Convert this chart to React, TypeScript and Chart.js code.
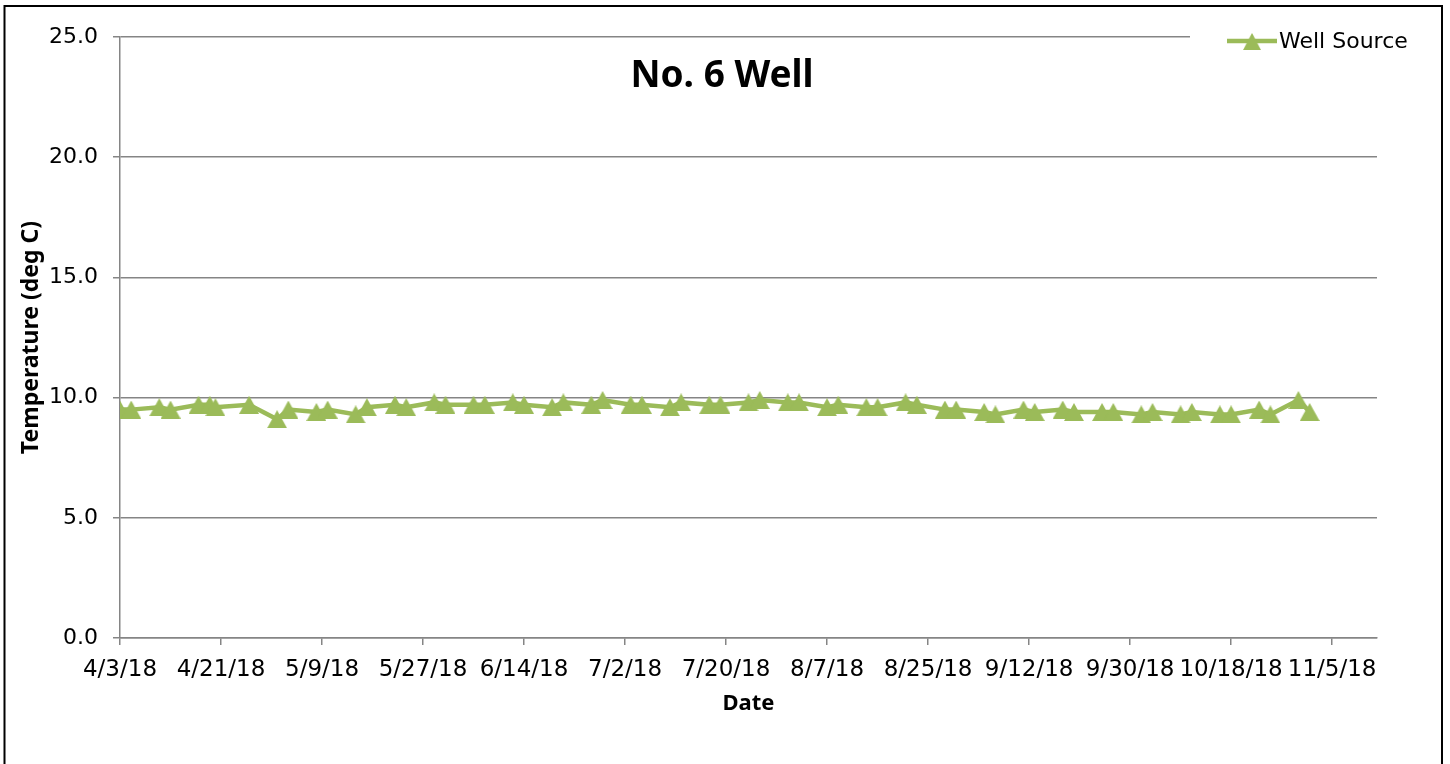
import React, { useEffect, useRef } from "react";
import { Chart, registerables } from "chart.js";

Chart.register(...registerables);

// ---- data ----
const sampleDates: string[] = [
  "4/3/18", "4/5/18", "4/10/18", "4/12/18", "4/17/18", "4/19/18", "4/20/18", "4/26/18",
  "5/1/18", "5/3/18", "5/8/18", "5/10/18", "5/15/18", "5/17/18", "5/22/18", "5/24/18",
  "5/29/18", "5/31/18", "6/5/18", "6/7/18", "6/12/18", "6/14/18", "6/19/18", "6/21/18",
  "6/26/18", "6/28/18", "7/3/18", "7/5/18", "7/10/18", "7/12/18", "7/17/18", "7/19/18",
  "7/24/18", "7/26/18", "7/31/18", "8/2/18", "8/7/18", "8/9/18", "8/14/18", "8/16/18",
  "8/21/18", "8/23/18", "8/28/18", "8/30/18", "9/4/18", "9/6/18", "9/11/18", "9/13/18",
  "9/18/18", "9/20/18", "9/25/18", "9/27/18", "10/2/18", "10/4/18", "10/9/18", "10/11/18",
  "10/16/18", "10/18/18", "10/23/18", "10/25/18", "10/30/18", "11/1/18",
];

const wellSource: number[] = [
  9.5, 9.5, 9.6, 9.5, 9.7, 9.7, 9.6, 9.7, 9.1, 9.5,
  9.4, 9.5, 9.3, 9.6, 9.7, 9.6, 9.8, 9.7, 9.7, 9.7,
  9.8, 9.7, 9.6, 9.8, 9.7, 9.9, 9.7, 9.7, 9.6, 9.8,
  9.7, 9.7, 9.8, 9.9, 9.8, 9.8, 9.6, 9.7, 9.6, 9.6,
  9.8, 9.7, 9.5, 9.5, 9.4, 9.3, 9.5, 9.4, 9.5, 9.4,
  9.4, 9.4, 9.3, 9.4, 9.3, 9.4, 9.3, 9.3, 9.5, 9.3,
  9.9, 9.4,
];

const xTickLabels: string[] = [
  "4/3/18", "4/21/18", "5/9/18", "5/27/18", "6/14/18", "7/2/18", "7/20/18",
  "8/7/18", "8/25/18", "9/12/18", "9/30/18", "10/18/18", "11/5/18",
];
const xAxisMin = "4/3/18";
const xAxisMax = "11/13/18";

const yTickValues: number[] = [0, 5, 10, 15, 20, 25];

const chartTitle = "No. 6 Well";
const seriesName = "Well Source";
const xTitle = "Date";
const yTitle = "Temperature (deg C)";

const GREEN = "#9BBB59";
const GRID = "#858585";

function dayNum(s: string): number {
  const [m, d, y] = s.split("/").map(Number);
  return Math.round(Date.UTC(2000 + y, m - 1, d) / 86400000);
}

function makeTriangle(w: number, h: number): HTMLCanvasElement {
  const c = document.createElement("canvas");
  c.width = w;
  c.height = h;
  const g = c.getContext("2d")!;
  g.fillStyle = GREEN;
  g.beginPath();
  g.moveTo(w / 2, 0);
  g.lineTo(w, h);
  g.lineTo(0, h);
  g.closePath();
  g.fill();
  return c;
}

export default function App() {
  const ref = useRef<HTMLCanvasElement | null>(null);

  useEffect(() => {
    document.body.style.margin = "0";
    const canvas = ref.current;
    if (!canvas) return;

    const tri = makeTriangle(20, 18);
    const tickDays = xTickLabels.map(dayNum);
    const labelMap = new Map<number, string>();
    xTickLabels.forEach((l, i) => labelMap.set(tickDays[i], l));

    const points = sampleDates.map((d, i) => ({ x: dayNum(d), y: wellSource[i] }));

    const decor = {
      id: "decor",
      afterDraw(chart: any) {
        const ctx = chart.ctx as CanvasRenderingContext2D;
        ctx.save();
        // outer border
        ctx.strokeStyle = "#000";
        ctx.lineWidth = 2;
        ctx.strokeRect(4.5, 6, 1437.5, 800);
        // title
        ctx.fillStyle = "#000";
        ctx.font = "bold 37px 'Noto Sans'";
        ctx.textAlign = "center";
        ctx.textBaseline = "alphabetic";
        ctx.fillText(chartTitle, 722, 87);
        // legend
        ctx.fillStyle = "#fff";
        ctx.fillRect(1190, 24, 235, 30);
        ctx.strokeStyle = GREEN;
        ctx.lineWidth = 4.5;
        ctx.beginPath();
        ctx.moveTo(1227, 41);
        ctx.lineTo(1277, 41);
        ctx.stroke();
        ctx.drawImage(tri, 1252 - 9, 41.5 - 8.5, 18, 17);
        ctx.fillStyle = "#000";
        ctx.font = "22px 'DejaVu Sans'";
        ctx.textAlign = "left";
        ctx.fillText(seriesName, 1279, 48);
        ctx.restore();
      },
    };

    const chart = new Chart(canvas, {
      type: "line",
      data: {
        datasets: [
          {
            label: seriesName,
            data: points,
            borderColor: GREEN,
            backgroundColor: GREEN,
            borderWidth: 4.5,
            tension: 0,
            pointStyle: tri as any,
            pointRadius: 10,
            pointHoverRadius: 10,
          },
        ],
      },
      options: {
        responsive: false,
        animation: false,
        layout: { padding: { left: 0, top: 37, right: 73, bottom: 0 } },
        plugins: {
          legend: { display: false },
          title: { display: false },
          tooltip: { enabled: false },
        },
        scales: {
          x: {
            type: "linear",
            min: dayNum(xAxisMin),
            max: dayNum(xAxisMax),
            afterBuildTicks: (s: any) => {
              s.ticks = tickDays.map((v) => ({ value: v }));
            },
            afterFit: (s: any) => {
              s.height = 126;
            },
            ticks: {
              autoSkip: false,
              maxRotation: 0,
              minRotation: 0,
              padding: 11,
              color: "#000",
              font: { family: "DejaVu Sans", size: 23 },
              callback: (v: any) => labelMap.get(Number(v)) ?? "",
            },
            grid: {
              drawOnChartArea: false,
              drawTicks: true,
              tickLength: 7,
              color: GRID,
              lineWidth: 1.5,
            },
            border: { display: true, color: GRID, width: 1.5 },
            title: {
              display: true,
              text: xTitle,
              color: "#000",
              font: { family: "Noto Sans", size: 22, weight: "bold" },
              padding: { top: 0, bottom: 47 },
            },
          },
          y: {
            type: "linear",
            min: 0,
            max: 25,
            afterBuildTicks: (s: any) => {
              s.ticks = yTickValues.map((v) => ({ value: v }));
            },
            afterFit: (s: any) => {
              s.width = 120;
            },
            ticks: {
              padding: 15,
              color: "#000",
              font: { family: "DejaVu Sans", size: 22 },
              callback: (v: any) => Number(v).toFixed(1),
            },
            grid: {
              drawOnChartArea: true,
              drawTicks: true,
              tickLength: 7,
              color: GRID,
              lineWidth: 1.5,
            },
            border: { display: true, color: GRID, width: 1.5 },
            title: {
              display: true,
              text: yTitle,
              color: "#000",
              font: { family: "Noto Sans", size: 23, weight: "bold" },
              padding: { top: 18, bottom: 0 },
            },
          },
        },
      },
      plugins: [decor],
    });

    return () => chart.destroy();
  }, []);

  return (
    <div style={{ position: "absolute", left: 0, top: 0, width: 1450, height: 764 }}>
      <canvas ref={ref} width={1450} height={764} style={{ display: "block" }} />
    </div>
  );
}
